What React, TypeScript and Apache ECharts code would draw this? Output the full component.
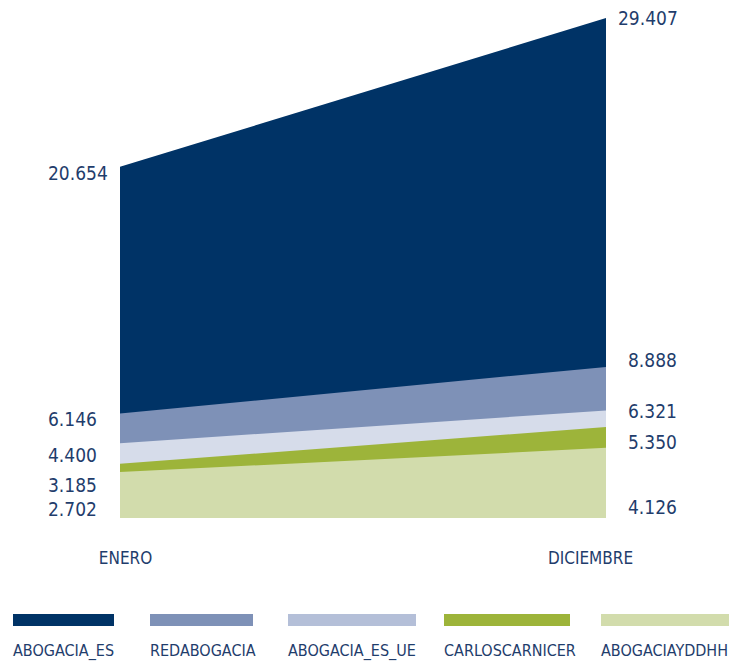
import React, { useEffect, useRef } from "react";
import * as echarts from "echarts";

// ---- data ----
const categories = ["ENERO", "DICIEMBRE"];
const seriesNames = ["ABOGACIA_ES", "REDABOGACIA", "ABOGACIA_ES_UE", "CARLOSCARNICER", "ABOGACIAYDDHH"];
// cumulative totals as labelled on the chart
const abogaciaEs = [20654, 29407];
const redAbogacia = [6146, 8888];
const abogaciaEsUe = [4400, 6321];
const carlosCarnicer = [3185, 5350];
const abogaciaYDdhh = [2702, 4126];
const seriesValues = [abogaciaEs, redAbogacia, abogaciaEsUe, carlosCarnicer, abogaciaYDdhh];

// ---- styles / layout ----
const areaColors = ["#003366", "#7e91b7", "#d6dcea", "#9db43a", "#d2dcac"];
const legendColors = ["#003366", "#7e91b7", "#b4bfd8", "#9db43a", "#d2dcac"];
const legendLefts = [13, 150, 288, 444, 601];
const legendBarWidths = [101, 103, 128, 126, 128];
const labelOffsets = [
  [[0, 6], [-10, 0]],
  [[0, 5.5], [0, -7]],
  [[0, 12], [0, 0.5]],
  [[0, 21], [0, 15]],
  [[0, 37], [0, 59]],
];
const textColor = "#1f3d6c";
const fontFamily = "'Liberation Sans Narrow', 'DejaVu Sans Condensed', 'Arial Narrow', sans-serif";

const fmt = (v: number) => String(v).replace(/\B(?=(\d{3})+(?!\d))/g, ".");

export default function App() {
  const ref = useRef<HTMLDivElement>(null);
  useEffect(() => {
    if (!ref.current) return;
    const chart = echarts.init(ref.current, undefined, { renderer: "svg" });
    const option: any = {
      animation: false,
      grid: { left: 120, right: 127, top: 18, bottom: 147 },
      xAxis: {
        type: "category",
        data: categories,
        boundaryGap: false,
        axisLine: { show: false },
        axisTick: { show: false },
        splitLine: { show: false },
        axisLabel: {
          margin: 31,
          interval: 0,
          formatter: (v: string) => (v === categories[0] ? `{a|${v}}` : `{b|${v}}`),
          rich: {
            a: { fontSize: 17, color: textColor, fontFamily, padding: [0, 0, 0, 11] },
            b: { fontSize: 17, color: textColor, fontFamily, padding: [0, 31, 0, 0] },
          },
        },
      },
      yAxis: {
        type: "value",
        min: 0,
        max: "dataMax",
        show: false,
        splitLine: { show: false },
      },
      legend: seriesNames.map((n, i) => ({
        data: [{ name: n, itemStyle: { opacity: 0 } }],
        left: legendLefts[i] - 5,
        top: 614,
        padding: 0,
        itemWidth: 0,
        itemHeight: 0,
        selectedMode: false,
        icon: "rect",
        formatter: (name: string) => `{bar|}\n{txt|${name}}`,
        textStyle: {
          rich: {
            bar: { width: legendBarWidths[i], height: 12, lineHeight: 12, backgroundColor: legendColors[i] },
            txt: { fontSize: 16, lineHeight: 48, color: textColor, fontFamily },
          },
        },
      })),
      series: seriesNames.map((n, s) => ({
        type: "line",
        name: n,
        silent: true,
        symbol: "circle",
        symbolSize: 0,
        showSymbol: true,
        lineStyle: { width: 0 },
        itemStyle: { color: areaColors[s] },
        areaStyle: { color: areaColors[s], opacity: 1 },
        emphasis: { disabled: true },
        label: {
          show: true,
          fontSize: 19,
          color: textColor,
          fontFamily,
          formatter: (p: any) => fmt(p.value),
        },
        data: seriesValues[s].map((v, i) => ({
          value: v,
          label: {
            position: i === 0 ? "left" : "right",
            align: "left",
            verticalAlign: "middle",
            distance: i === 0 ? 72 : 22,
            offset: labelOffsets[s][i],
          },
        })),
      })),
    };
    chart.setOption(option);
    return () => chart.dispose();
  }, []);
  return (
    <div
      ref={ref}
      style={{ position: "fixed", left: 0, top: 0, width: 733, height: 665, background: "#fff" }}
    />
  );
}
